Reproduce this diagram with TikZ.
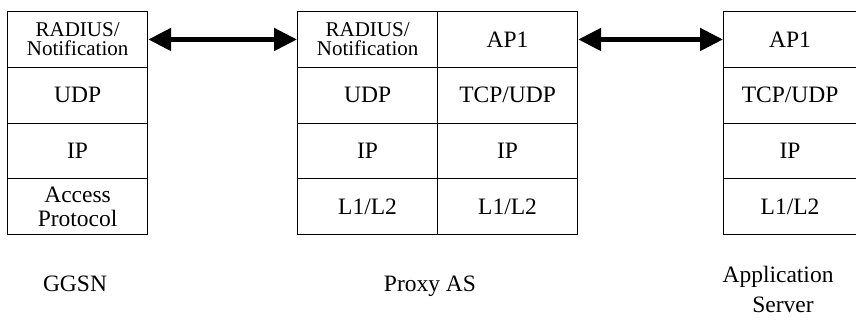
\documentclass[tikz,border=0pt]{standalone}
\usepackage{fontspec}
\setmainfont{Liberation Serif}
\usetikzlibrary{arrows.meta}
\begin{document}
\begin{tikzpicture}[x=1pt,y=-1pt,
  cell/.style={draw, line width=1.2pt, minimum width=140pt, minimum height=55.75pt,
    inner sep=0pt, anchor=north west, align=center,
    font=\fontsize{23.5}{24}\selectfont},
  twoline/.style={font=\fontsize{21}{19}\selectfont},
  narrowcell/.style={minimum width=133pt},
  link/.style={line width=5pt,
    {Triangle[length=23pt,width=22pt]}-{Triangle[length=23pt,width=22pt]}},
  caption/.style={anchor=base, align=center, font=\fontsize{23.5}{30}\selectfont}]

\useasboundingbox (0,0) rectangle (856,327);

% GGSN protocol stack
\node[cell, twoline] (g1) at (7,11)     {RADIUS/\\Notification};
\node[cell]          (g2) at (7,66.75)  {UDP};
\node[cell]          (g3) at (7,122.5)  {IP};
\node[cell]          (g4) at (7,178.25) {Access\\Protocol};

% Proxy AS: two stacks side by side
\node[cell, twoline] (p1) at (297,11)     {RADIUS/\\Notification};
\node[cell]          (p2) at (297,66.75)  {UDP};
\node[cell]          (p3) at (297,122.5)  {IP};
\node[cell]          (p4) at (297,178.25) {L1/L2};
\node[cell]          (q1) at (437,11)     {AP1};
\node[cell]          (q2) at (437,66.75)  {TCP/UDP};
\node[cell]          (q3) at (437,122.5)  {IP};
\node[cell]          (q4) at (437,178.25) {L1/L2};

% Application Server stack
\node[cell, narrowcell] (a1) at (723,11)     {AP1};
\node[cell, narrowcell] (a2) at (723,66.75)  {TCP/UDP};
\node[cell, narrowcell] (a3) at (723,122.5)  {IP};
\node[cell, narrowcell] (a4) at (723,178.25) {L1/L2};

% peer links
\draw[link] (g1.east) -- (p1.west);
\draw[link] (q1.east) -- (a1.west);

% entity names
\node[caption] (ggsn)  at (75,291)  {GGSN};
\node[caption] (proxy) at (430,291) {Proxy AS};
\node[caption] (appl)  at (778,282) {Application};
\node[caption] (serv)  at (783,312) {Server};
\end{tikzpicture}
\end{document}
